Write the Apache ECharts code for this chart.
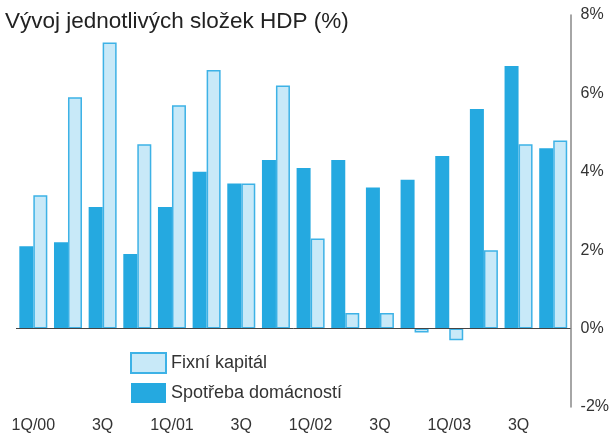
<!DOCTYPE html>
<html>
<head>
<meta charset="utf-8">
<script src="https://cdn.jsdelivr.net/npm/echarts@6/dist/echarts.min.js"></script>
<style>
html,body{margin:0;padding:0;background:#fff;}
#chart{width:612px;height:437px;}
</style>
</head>
<body>
<div id="chart"></div>
<script>
const categories = ["1Q/00","2Q","3Q","4Q","1Q/01","2Q","3Q","4Q","1Q/02","2Q","3Q","4Q","1Q/03","2Q","3Q","4Q"];
const spotreba = [2.1, 2.2, 3.1, 1.9, 3.1, 4.0, 3.7, 4.3, 4.1, 4.3, 3.6, 3.8, 4.4, 5.6, 6.7, 4.6];
const fixni = [3.4, 5.9, 7.3, 4.7, 5.7, 6.6, 3.7, 6.2, 2.3, 0.4, 0.4, -0.1, -0.3, 2.0, 4.7, 4.8];
const yTicks = { min: -2, max: 8, interval: 2 };
const titleText = "Vývoj jednotlivých složek HDP (%)";

const FONT = '"Helvetica Neue", Helvetica, Arial, "Liberation Sans", sans-serif';
const chart = echarts.init(document.getElementById('chart'), null, { renderer: 'canvas' });
chart.setOption({
  animation: false,
  backgroundColor: '#fff',
  title: {
    text: titleText,
    left: 0, top: 5,
    textStyle: { fontFamily: FONT, fontSize: 22.5, fontWeight: 'normal', color: '#222' }
  },
  legend: {
    orient: 'vertical',
    left: 125, top: 347,
    icon: 'rect',
    itemWidth: 35, itemHeight: 20, itemGap: 9,
    data: ['Fixní kapitál', 'Spotřeba domácností'],
    textStyle: { fontFamily: FONT, fontSize: 18, color: '#333' }
  },
  grid: { left: 16, right: 40, top: 15, bottom: 30 },
  xAxis: {
    type: 'category',
    data: categories,
    axisLine: { show: false },
    axisTick: { show: false },
    axisLabel: { interval: 1, margin: 11, fontFamily: FONT, fontSize: 16, color: '#333' }
  },
  yAxis: {
    type: 'value',
    position: 'right',
    min: yTicks.min, max: yTicks.max, interval: yTicks.interval,
    axisLine: { show: true, lineStyle: { color: '#888', width: 1.5 } },
    axisTick: { show: false },
    splitLine: { show: false },
    axisLabel: { margin: 10, fontFamily: FONT, fontSize: 16, color: '#333', formatter: '{value}%', padding: [10,0,0,0] }
  },
  series: [
    {
      name: 'Spotřeba domácností',
      type: 'bar',
      data: spotreba,
      barWidth: 14,
      barGap: '0%',
      itemStyle: { color: '#25a9e0' },
      markLine: {
        silent: true,
        symbol: ['none', 'none'],
        label: { show: false },
        lineStyle: { color: '#444', width: 1, type: 'solid' },
        data: [{ yAxis: 0 }]
      }
    },
    {
      name: 'Fixní kapitál',
      type: 'bar',
      data: fixni,
      barWidth: 14,
      itemStyle: { color: '#c8e9f8', borderColor: '#3db2e6', borderWidth: 1.5 }
    }
  ]
});
</script>
</body>
</html>
